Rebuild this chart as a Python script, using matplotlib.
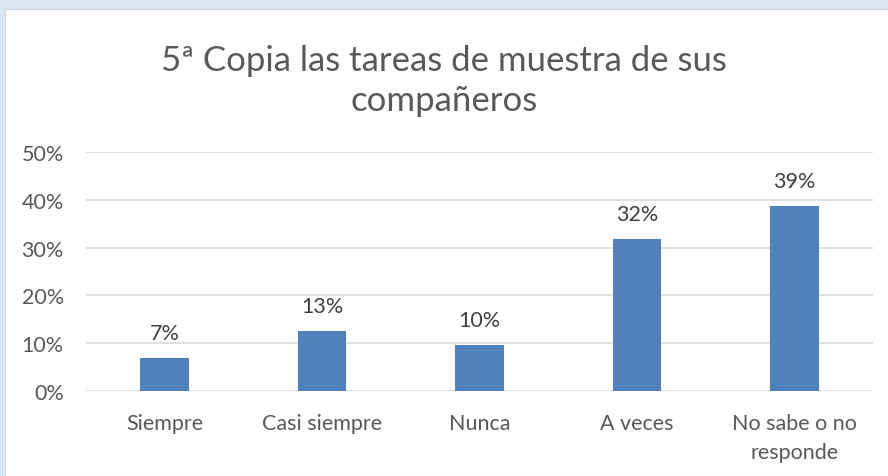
import matplotlib.pyplot as plt
import matplotlib.ticker as ticker
from matplotlib.patches import Rectangle

categories = ["Siempre", "Casi siempre", "Nunca", "A veces", "No sabe o no\nresponde"]
values = [0.068, 0.125, 0.096, 0.318, 0.387]
value_labels = ["7%", "13%", "10%", "32%", "39%"]
title = "5ª Copia las tareas de muestra de sus\ncompañeros"

plt.rcParams['font.family'] = ['Lato', 'DejaVu Sans']
text_color = '#595959'

fig = plt.figure(figsize=(8.88, 4.77), dpi=100)
fig.patch.set_facecolor('#dce6f2')
# white chart panel behind everything
fig.patches.append(Rectangle((5 / 888, 0), 1, 1 - 10 / 477, transform=fig.transFigure,
                             facecolor='white', edgecolor='#d0d7e0', linewidth=0.8, zorder=-10))

ax = fig.add_axes([86 / 888, 1 - 392 / 477, (873 - 86) / 888, (392 - 153) / 477])
ax.set_facecolor('none')

x = range(len(categories))
bars = ax.bar(x, values, width=0.31, color='#4f81bd', zorder=3)
for rect, lab in zip(bars, value_labels):
    ax.annotate(lab, (rect.get_x() + rect.get_width() / 2, rect.get_height()),
                xytext=(0, 18), textcoords='offset points',
                ha='center', va='center', fontsize=15.5, color='#404040')

ax.set_xlim(-0.5, len(categories) - 0.5)
ax.set_ylim(0, 0.5)
ax.yaxis.set_major_locator(ticker.MultipleLocator(0.1))
ax.yaxis.set_major_formatter(ticker.PercentFormatter(1.0, decimals=0))
ax.set_xticks(list(x))
ax.set_xticklabels(categories, linespacing=1.55)
ax.grid(axis='y', color='#d9d9d9', linewidth=1.2, zorder=0)
for s in ax.spines.values():
    s.set_visible(False)
ax.tick_params(axis='both', length=0, labelsize=15.5, labelcolor=text_color)
ax.tick_params(axis='x', pad=16)
ax.tick_params(axis='y', pad=16)

fig.text(0.5, 1 - 81 / 477, title, ha='center', va='center', fontsize=25,
         color=text_color, linespacing=1.32)

fig.savefig('out.png', dpi=100, facecolor=fig.get_facecolor())
